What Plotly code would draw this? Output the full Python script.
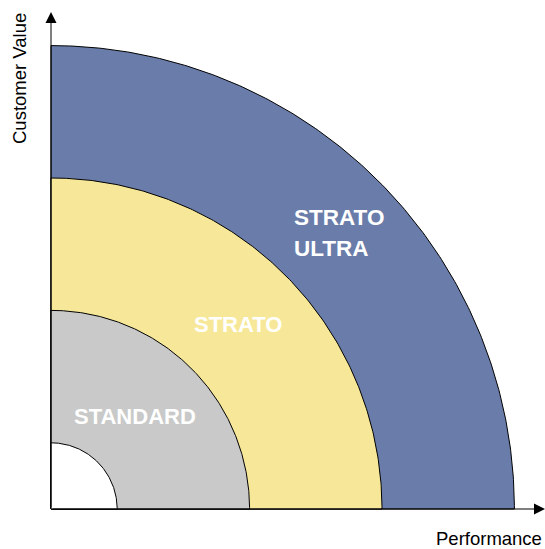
import numpy as np
import plotly.graph_objects as go

# Tiers (outer radius, in tier units) drawn from largest to smallest
tier_names = ["STRATO ULTRA", "STRATO", "STANDARD", ""]
tier_radii = [3.5, 2.5, 1.5, 0.5]
tier_colors = ["#6A7DAA", "#F7E899", "#C8C9C8", "#FFFFFF"]

x_label = "Performance"
y_label = "Customer Value"

PX = 132.4  # pixels per unit
OX, OY = 51, 509  # origin in pixels
W, H = 545, 549

def dx(px):
    return (px - OX) / PX

def dy(py):
    return (OY - py) / PX

fig = go.Figure()
theta = np.linspace(0, np.pi / 2, 200)
for r, c in zip(tier_radii, tier_colors):
    xs = np.concatenate([[0], r * np.cos(theta), [0]])
    ys = np.concatenate([[0], r * np.sin(theta), [0]])
    fig.add_trace(go.Scatter(x=xs, y=ys, mode="lines", fill="toself",
                             fillcolor=c, line=dict(color="black", width=1),
                             hoverinfo="skip", showlegend=False))

font = "Helvetica, Arial, 'Liberation Sans', sans-serif"
lab = dict(family=font, size=22, color="white", weight="bold")
ann = [
    dict(x=dx(292), y=dy(217), text="STRATO", xanchor="left", yanchor="middle"),
    dict(x=dx(292), y=dy(248), text="ULTRA", xanchor="left", yanchor="middle"),
    dict(x=dx(192), y=dy(324), text="STRATO", xanchor="left", yanchor="middle"),
    dict(x=dx(72), y=dy(416), text="STANDARD", xanchor="left", yanchor="middle"),
]
for i, a in enumerate(ann):
    f = dict(lab)
    if i < 2:
        f["size"] = 22.5
    fig.add_annotation(xref="x", yref="y", showarrow=False, font=f, **a)

# axes arrows
fig.add_annotation(x=dx(545), y=0, ax=0, ay=0, xref="x", yref="y", axref="x", ayref="y",
                   showarrow=True, arrowhead=2, arrowsize=2.2, arrowwidth=1, arrowcolor="black", text="")
fig.add_annotation(x=0, y=dy(12), ax=0, ay=0, xref="x", yref="y", axref="x", ayref="y",
                   showarrow=True, arrowhead=2, arrowsize=2.2, arrowwidth=1, arrowcolor="black", text="")

axf = dict(family=font, size=18.5, color="black")
fig.add_annotation(x=dx(544), y=dy(538), xref="x", yref="y", text=x_label, showarrow=False,
                   xanchor="right", yanchor="middle", font=axf)
fig.add_annotation(x=dx(19), y=dy(79), xref="x", yref="y", text=y_label, showarrow=False,
                   textangle=-90, xanchor="center", yanchor="middle", font=axf)

fig.update_xaxes(range=[dx(0), dx(W)], visible=False, fixedrange=True)
fig.update_yaxes(range=[dy(H), dy(0)], visible=False, fixedrange=True)
fig.update_layout(width=W, height=H, margin=dict(l=0, r=0, t=0, b=0),
                  paper_bgcolor="white", plot_bgcolor="white")
fig.write_html("out.html", config={"displayModeBar": False},
               post_script="document.body.style.margin='0';document.body.style.overflow='hidden';")
